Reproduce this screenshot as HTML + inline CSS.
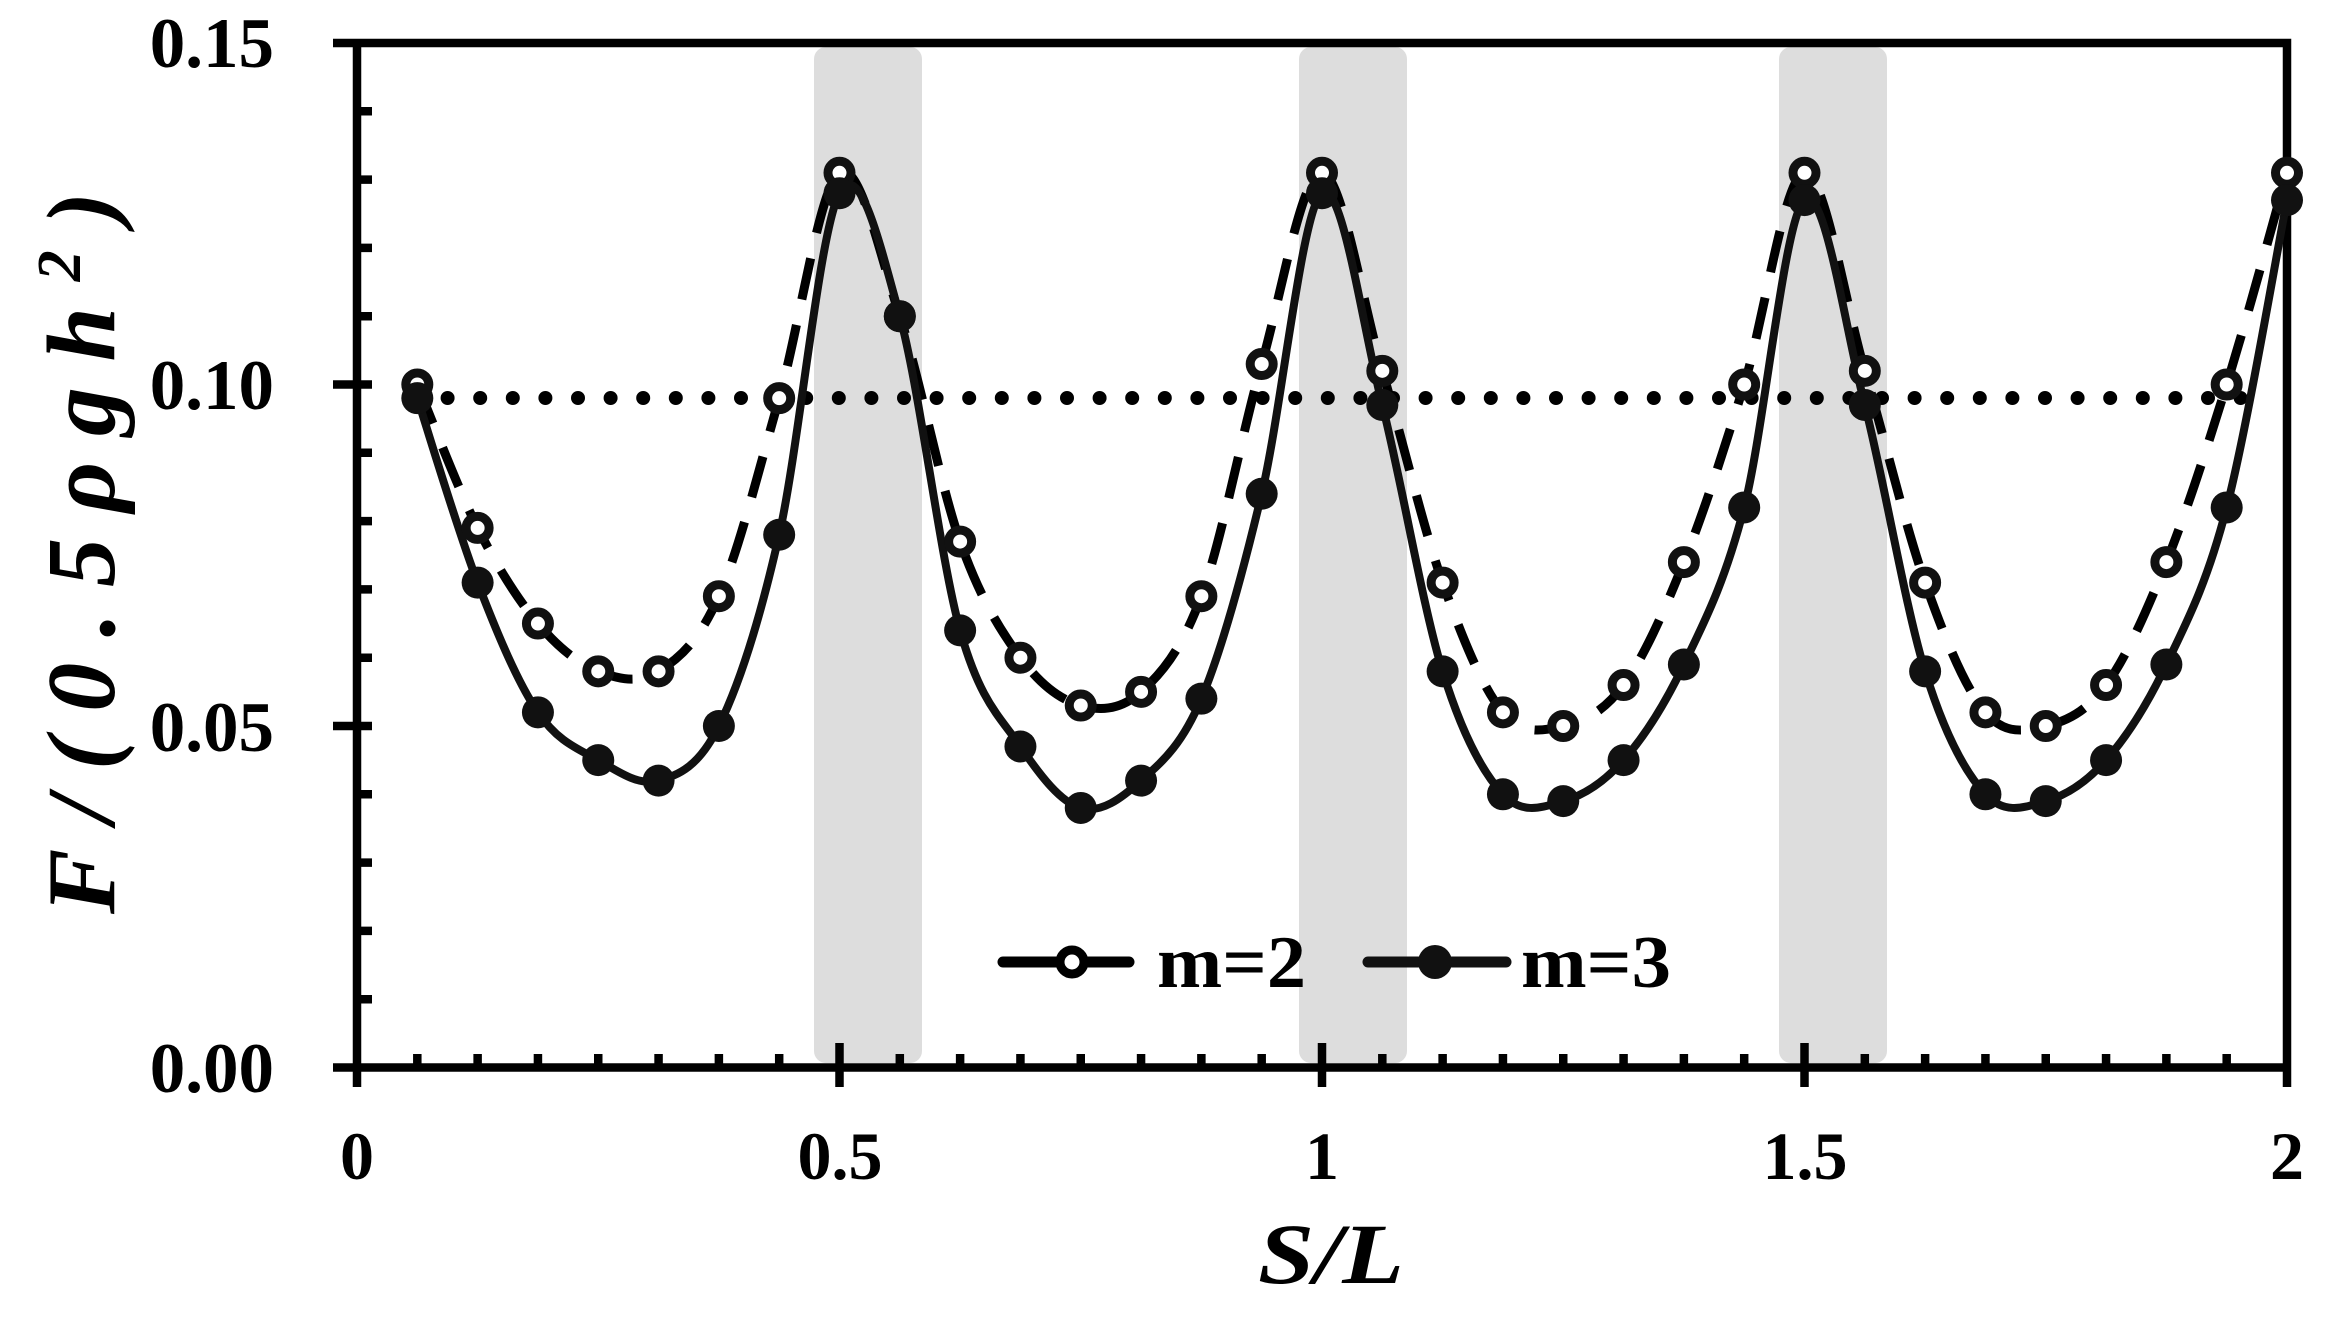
<!DOCTYPE html>
<html><head><meta charset="utf-8"><style>
html,body{margin:0;padding:0;background:#fff;}
svg{display:block;}
text{font-family:"Liberation Serif",serif;font-weight:bold;fill:#000;}
</style></head><body>
<svg id="s" width="2325" height="1317" viewBox="0 0 2325 1317" xmlns="http://www.w3.org/2000/svg">
<g id="bands" fill="#dddddd">
<rect x="814" y="47" width="108" height="1016" rx="12"/>
<rect x="1299" y="47" width="108" height="1016" rx="12"/>
<rect x="1779" y="47" width="108" height="1016" rx="12"/>
</g>
<g id="axes" stroke="#000" stroke-width="8.5" fill="none"></g>
<g id="plot"></g>
<g font-size="71" text-anchor="end">
<text x="274" y="67">0.15</text>
<text x="274" y="409">0.10</text>
<text x="274" y="751">0.05</text>
<text x="274" y="1092">0.00</text>
</g>
<g font-size="68" text-anchor="middle">
<text x="357" y="1179">0</text>
<text x="840" y="1179">0.5</text>
<text x="1322" y="1179">1</text>
<text x="1805" y="1179">1.5</text>
<text x="2287" y="1179">2</text>
</g>
<text x="1331" y="1283" font-size="86" font-style="italic" text-anchor="middle" textLength="146" lengthAdjust="spacingAndGlyphs">S/L</text>
<text transform="translate(114,553) rotate(-90)" font-size="98" font-style="italic" text-anchor="middle" textLength="722" lengthAdjust="spacing">F/(0.5ρgh<tspan font-size="62" dy="-34">2</tspan><tspan dy="34">)</tspan></text>
<g id="legend"></g>
<text x="1157" y="987" font-size="74" textLength="149" lengthAdjust="spacingAndGlyphs">m=2</text>
<text x="1521" y="987" font-size="74" textLength="150" lengthAdjust="spacingAndGlyphs">m=3</text>
</svg>
<script>
var NS="http://www.w3.org/2000/svg";
function el(p,n,a){var e=document.createElementNS(NS,n);for(var k in a)e.setAttribute(k,a[k]);p.appendChild(e);return e;}
function X(v){return 357+v*965;}
function Y(v){return 1067.5-v/0.15*1024.5;}
var ax=document.getElementById('axes');
var d="M333 43H2287V1067.5H357V43";
for(var i=0;i<=15;i++){var y=Y(i*0.01);if(i%5==0)d+="M333 "+y+"H372";else d+="M357 "+y+"H372";}
for(var i=0;i<=32;i++){var x=X(i*0.0625);if(i%8==0)d+="M"+x+" 1043V1087";else d+="M"+x+" 1067.5V1054";}
el(ax,'path',{d:d,'stroke-linecap':'butt'});
var m2=[.100,.079,.065,.058,.058,.069,.098,.131,.110,.077,.060,.053,.055,.069,.103,.131,.102,.071,.052,.050,.056,.074,.100,.131,.102,.071,.052,.050,.056,.074,.100,.131];
var m3=[.098,.071,.052,.045,.042,.050,.078,.128,.110,.064,.047,.038,.042,.054,.084,.128,.097,.058,.040,.039,.045,.059,.082,.127,.097,.058,.040,.039,.045,.059,.082,.127];
function pts(a){return a.map(function(v,i){return [X((i+1)*0.0625),Y(v)];});}
function cr(p){var s="M"+p[0][0]+" "+p[0][1];for(var i=0;i<p.length-1;i++){var p0=p[i-1]||p[i],p1=p[i],p2=p[i+1],p3=p[i+2]||p2;var t=6;s+="C"+(p1[0]+(p2[0]-p0[0])/t)+" "+(p1[1]+(p2[1]-p0[1])/t)+" "+(p2[0]-(p3[0]-p1[0])/t)+" "+(p2[1]-(p3[1]-p1[1])/t)+" "+p2[0]+" "+p2[1];}return s;}
var pl=document.getElementById('plot');
el(pl,'line',{x1:415,y1:398,x2:2266,y2:398,stroke:'#000','stroke-width':14,'stroke-dasharray':'0 32.6','stroke-linecap':'round'});
var P2=pts(m2),P3=pts(m3);
el(pl,'path',{d:cr(P2),fill:'none',stroke:'#000','stroke-width':9,'stroke-dasharray':'42 26'});
el(pl,'path',{d:cr(P3),fill:'none',stroke:'#111','stroke-width':8});
P2.forEach(function(p){el(pl,'circle',{cx:p[0],cy:p[1],r:11.5,fill:'#fff',stroke:'#111','stroke-width':9});});
P3.forEach(function(p){el(pl,'circle',{cx:p[0],cy:p[1],r:16,fill:'#111'});});
var lg=document.getElementById('legend');
el(lg,'line',{x1:1003,y1:962,x2:1129,y2:962,stroke:'#000','stroke-width':11,'stroke-linecap':'round'});
el(lg,'circle',{cx:1072,cy:962,r:12,fill:'#fff',stroke:'#000','stroke-width':9});
el(lg,'line',{x1:1368,y1:962,x2:1506,y2:962,stroke:'#111','stroke-width':11,'stroke-linecap':'round'});
el(lg,'circle',{cx:1435,cy:962,r:17,fill:'#111'});
</script>
</body></html>
